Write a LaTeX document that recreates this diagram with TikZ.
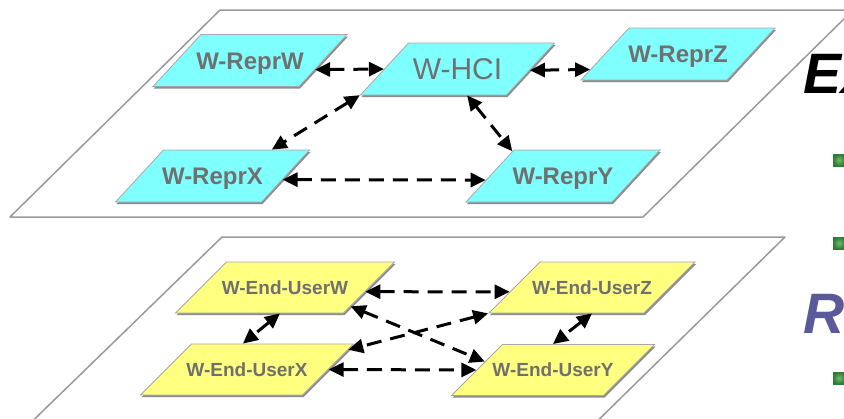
\documentclass[tikz,border=0pt]{standalone}
\usepackage{fontspec}
\setmainfont{Liberation Sans}
\usetikzlibrary{shapes.geometric,arrows.meta,shadows}

\definecolor{planeline}{HTML}{9A9A9A}
\definecolor{reprfill}{HTML}{80FFFF}
\definecolor{userfill}{HTML}{FFFF80}
\definecolor{cardedge}{HTML}{A8A8A8}
\definecolor{labelgray}{HTML}{707070}
\definecolor{titleblue}{HTML}{5A5A9A}
\definecolor{markdark}{HTML}{2F7A35}
\definecolor{marklight}{HTML}{6BBF6B}

% label centred on the card: a strut gives the card its full height,
% and the text may run into the slanted ends
\newlength{\cardhalf}
\setlength{\cardhalf}{26pt}
\newcommand{\cardlabel}[1]{\makebox[0pt]{\rule[\dimexpr-\cardhalf+0.358em\relax]{0pt}{2\cardhalf}#1}}

\begin{document}
\begin{tikzpicture}[x=1pt,y=-1pt,
  plane/.style={draw=planeline,line width=1.5pt,fill=white,line join=round},
  card/.style={trapezium, trapezium stretches body, draw=cardedge, line width=0.8pt,
    text=labelgray, inner sep=0pt,
    drop shadow={shadow xshift=1pt,shadow yshift=-2pt,fill=black!45,opacity=1}},
  reprcard/.style={card, fill=reprfill, trapezium left angle=47.3, trapezium right angle=132.7,
    /utils/exec={\setlength{\cardhalf}{26pt}},
    minimum width=194pt, font=\bfseries\fontsize{24}{28}\selectfont},
  usercard/.style={card, fill=userfill, trapezium left angle=45, trapezium right angle=135,
    /utils/exec={\setlength{\cardhalf}{25.5pt}},
    font=\bfseries\fontsize{19}{22}\selectfont},
  link/.style={line width=3pt, dash pattern=on 15pt off 9pt,
    {Triangle[length=15pt,width=14pt]}-{Triangle[length=15pt,width=14pt]}},
  greenmark/.style={rectangle, minimum size=12pt, inner sep=0pt,
    inner color=marklight, outer color=markdark},
]
\useasboundingbox (0,0) rectangle (844,418);
\clip (0,0) rectangle (844,418);

% the two layers
\draw[plane] (220,10) -- (853,10) -- (643,217) -- (10,217) -- cycle;
\draw[plane] (13,440) -- (222,237) -- (785,237) -- (578,440);

% upper layer
\node[reprcard] (reprW) at (250,60.5) {\cardlabel{W-ReprW}};
\node[reprcard, font=\fontsize{30}{34}\selectfont] (hci) at (457.5,69) {\cardlabel{W-HCI}};
\node[reprcard] (reprZ) at (678,54) {\cardlabel{W-ReprZ}};
\node[reprcard] (reprX) at (212.5,176) {\cardlabel{W-ReprX}};
\node[reprcard] (reprY) at (563,176) {\cardlabel{W-ReprY}};

\draw[link] (reprW.-8.5) -- (hci.180);
\draw[link] (hci.-1) -- (reprZ.190);
\draw[link] (hci.195) -- (reprX.24);
\draw[link] (hci.-70) -- (reprY.154);
\draw[link] (reprX.-3) -- (reprY.183);

% lower layer
\node[usercard, minimum width=219pt] (userW) at (285,287.5) {\cardlabel{W-End-UserW}};
\node[usercard, minimum width=206pt] (userZ) at (592,287.5) {\cardlabel{W-End-UserZ}};
\node[usercard, minimum width=213pt] (userX) at (247,369.5) {\cardlabel{W-End-UserX}};
\node[usercard, minimum width=203pt] (userY) at (553,370) {\cardlabel{W-End-UserY}};

\draw[link] (userW.-3) -- (userZ.183);
\draw[link] (userW.-16) -- (userY.173);
\draw[link] (userZ.194) -- (userX.11);
\draw[link] (userX.0) -- (userY.180);
\draw[link] (userW.-101) -- (userX.99);
\draw[link] (userZ.-90) -- (userY.90);

% slide text running off the right edge
\node[anchor=base west, inner sep=0pt, font=\bfseries\itshape\fontsize{57}{60}\selectfont]
  (exTitle) at (803,93) {EX};
\node[anchor=base west, inner sep=0pt, text=titleblue, font=\bfseries\itshape\fontsize{57}{60}\selectfont]
  (rTitle) at (803,333) {R};
\node[greenmark] (markA) at (839,160) {};
\node[greenmark] (markB) at (839,243) {};
\node[greenmark] (markC) at (839,378) {};
\end{tikzpicture}
\end{document}
